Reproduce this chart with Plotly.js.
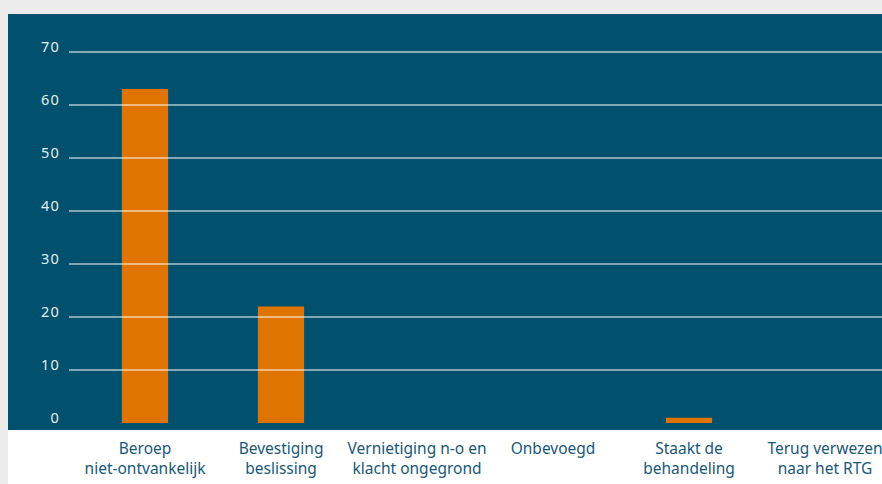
<!DOCTYPE html>
<html>
<head>
<meta charset="utf-8">
<script src="https://cdn.plot.ly/plotly-3.0.1.min.js"></script>
<style>html,body{margin:0;padding:0;background:#ececec;}#chart{width:882px;height:484px;}
.ytick text{letter-spacing:1.2px;}</style>
</head>
<body>
<div id="chart"></div>
<script>
const categories = [
  "Beroep<br>niet-ontvankelijk",
  "Bevestiging<br>beslissing",
  "Vernietiging n-o en<br>klacht ongegrond",
  "Onbevoegd",
  "Staakt de<br>behandeling",
  "Terug verwezen<br>naar het RTG"
];
const values = [63, 22, 0, 0, 1, 0];
const yTicks = [0, 10, 20, 30, 40, 50, 60, 70];

const W = 882, H = 484;
const margin = {l: 69, r: 0, t: 14, b: 54};
const pw = W - margin.l - margin.r, ph = H - margin.t - margin.b;

const shapes = [
  {type: 'rect', xref: 'paper', yref: 'paper', x0: (8 - margin.l) / pw, x1: 1, y0: 0, y1: 1,
   fillcolor: '#01506d', line: {width: 0}, layer: 'below'},
  {type: 'rect', xref: 'paper', yref: 'paper', x0: (8 - margin.l) / pw, x1: 1, y0: -margin.b / ph, y1: 0,
   fillcolor: '#ffffff', line: {width: 0}, layer: 'below'}
];
yTicks.filter(v => v > 0).forEach(v => {
  shapes.push({type: 'line', xref: 'paper', yref: 'y', x0: 0, x1: 1, y0: v, y1: v,
    line: {color: '#ffffff', width: 1.2}, layer: 'above'});
});

const trace = {
  type: 'bar',
  x: categories,
  y: values,
  marker: {color: '#e07400'},
  width: 0.34,
  hoverinfo: 'skip'
};

const layout = {
  width: W, height: H,
  margin: margin,
  paper_bgcolor: '#ececec',
  plot_bgcolor: 'rgba(0,0,0,0)',
  showlegend: false,
  font: {family: 'Noto Sans, sans-serif'},
  xaxis: {
    type: 'category',
    range: [-0.559, 5.419],
    showgrid: false, zeroline: false, showline: false, ticks: '',
    tickfont: {size: 15.5, color: '#1a5878', family: 'Noto Sans, sans-serif'},
    ticklabelstandoff: 7
  },
  yaxis: {
    range: [-1.32, 77.17],
    tickvals: yTicks,
    ticktext: yTicks.map(String),
    showgrid: false, zeroline: false, showline: false, ticks: '',
    ticklabelshift: -5,
    tickfont: {size: 14.5, color: '#e6eef2', family: 'Noto Sans, sans-serif'},
    ticklabelstandoff: 8
  },
  shapes: shapes
};

Plotly.newPlot('chart', [trace], layout, {displayModeBar: false, staticPlot: true});
</script>
</body>
</html>
